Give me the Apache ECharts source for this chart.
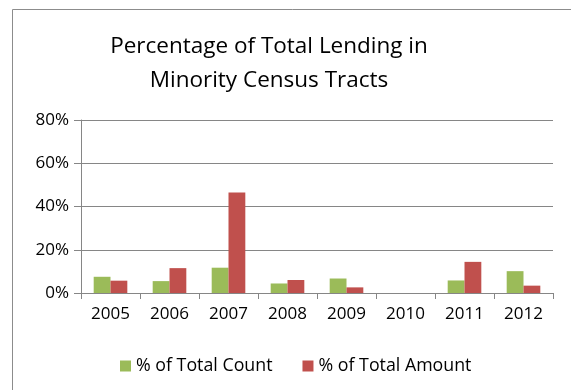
<!DOCTYPE html>
<html>
<head>
<meta charset="utf-8">
<script src="https://cdn.jsdelivr.net/npm/echarts@6/dist/echarts.min.js"></script>
<style>
  html, body { margin: 0; padding: 0; background: #fff; }
  #chart { width: 571px; height: 390px; }
</style>
</head>
<body>
<div id="chart"></div>
<script>
// Years on the category axis
const years = ['2005', '2006', '2007', '2008', '2009', '2010', '2011', '2012'];
// Share of lending in minority census tracts, percent
const pctCount  = [7.5, 5.5, 11.7, 4.4, 6.7, 0, 5.8, 10.1];
const pctAmount = [5.7, 11.5, 46.5, 6.0, 2.6, 0, 14.4, 3.4];
// Series names
const seriesNames = ['% of Total Count', '% of Total Amount'];

const FONT = '"Open Sans", "Liberation Sans", sans-serif';
const chart = echarts.init(document.getElementById('chart'), null, { renderer: 'canvas' });

chart.setOption({
  animation: false,
  backgroundColor: '#ffffff',
  title: {
    text: 'Percentage of Total Lending in\nMinority Census Tracts',
    left: 264,
    textAlign: 'center',
    top: 25,
    textStyle: { fontFamily: FONT, fontSize: 22.5, fontWeight: 'normal', color: '#000', lineHeight: 34 }
  },
  graphic: [{
    type: 'rect',
    shape: { x: 12.5, y: 9.5, width: 600, height: 420 },
    style: { fill: 'none', stroke: '#8c8c8c', lineWidth: 1 },
    silent: true
  }],
  legend: {
    data: seriesNames,
    top: 352,
    left: 115,
    itemWidth: 11,
    itemHeight: 11,
    itemGap: 30,
    icon: 'rect',
    textStyle: { fontFamily: FONT, fontSize: 17.8, color: '#000' }
  },
  grid: { left: 81, right: 18, top: 120, bottom: 97, containLabel: false },
  xAxis: {
    type: 'category',
    data: years,
    axisLine: { lineStyle: { color: '#868686', width: 1 } },
    axisTick: { show: true, length: 6, lineStyle: { color: '#868686' } },
    axisLabel: { fontFamily: FONT, fontSize: 17, color: '#000', margin: 13 }
  },
  yAxis: {
    type: 'value',
    min: 0, max: 80, interval: 20,
    axisLine: { show: true, lineStyle: { color: '#868686', width: 1 } },
    axisTick: { show: true, inside: false, length: 7, lineStyle: { color: '#868686' } },
    splitLine: { lineStyle: { color: '#868686', width: 1 } },
    axisLabel: { fontFamily: FONT, fontSize: 17, color: '#000', margin: 12, formatter: '{value}%' }
  },
  series: [
    { name: seriesNames[0], type: 'bar', data: pctCount, itemStyle: { color: '#9bbb59' }, barGap: '0%', barCategoryGap: '43%' },
    { name: seriesNames[1], type: 'bar', data: pctAmount, itemStyle: { color: '#c0504d' }, barGap: '0%', barCategoryGap: '43%' }
  ]
});
</script>
</body>
</html>
